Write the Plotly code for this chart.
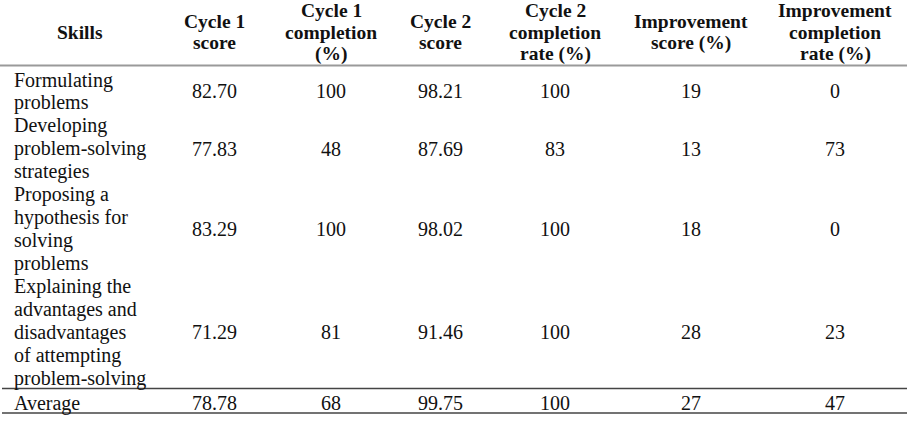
import plotly.graph_objects as go

# ---- data ----
headers = ["Skills", "Cycle 1<br>score", "Cycle 1<br>completion<br>(%)", "Cycle 2<br>score",
           "Cycle 2<br>completion<br>rate (%)", "Improvement<br>score (%)",
           "Improvement<br>completion<br>rate (%)"]
skills = ["Formulating<br>problems",
          "Developing<br>problem-solving<br>strategies",
          "Proposing a<br>hypothesis for<br>solving<br>problems",
          "Explaining the<br>advantages and<br>disadvantages<br>of attempting<br>problem-solving",
          "Average"]
cycle1_score = [82.70, 77.83, 83.29, 71.29, 78.78]
cycle1_completion = [100, 48, 100, 81, 68]
cycle2_score = [98.21, 87.69, 98.02, 91.46, 99.75]
cycle2_completion = [100, 83, 100, 100, 100]
improvement_score = [19, 13, 18, 28, 27]
improvement_completion = [0, 73, 0, 23, 47]

# ---- layout constants ----
W, H = 910, 422
FONT = "Liberation Serif"
col_x = [80, 214, 331, 440, 555, 691, 835]
skill_x = 12
head_center, head_step = 32, 21.5
body_start, body_step = 80, 22.95
avg_extra = 2

value_cols = [
    [f"{v:.2f}" for v in cycle1_score],
    [str(v) for v in cycle1_completion],
    [f"{v:.2f}" for v in cycle2_score],
    [str(v) for v in cycle2_completion],
    [str(v) for v in improvement_score],
    [str(v) for v in improvement_completion],
]

ann = []
# header
for h, x in zip(headers, col_x):
    lines = h.split("<br>")
    n = len(lines)
    for i, ln in enumerate(lines):
        y = head_center + (i - (n - 1) / 2) * head_step
        ann.append(dict(x=x, y=y, text="<b>" + ln + "</b>", xanchor="center", yanchor="middle",
                        font=dict(family=FONT, size=19.5, color="#111")))

# body
line_idx = 0
row_centers = []
for r, s in enumerate(skills):
    lines = s.split("<br>")
    ys = []
    for ln in lines:
        y = body_start + line_idx * body_step + (avg_extra if r == len(skills) - 1 else 0)
        ys.append(y)
        ann.append(dict(x=skill_x, y=y, text=ln, xanchor="left", yanchor="middle",
                        font=dict(family=FONT, size=20, color="#111")))
        line_idx += 1
    row_centers.append(sum(ys) / len(ys))

for c, vals in enumerate(value_cols):
    for r, v in enumerate(vals):
        ann.append(dict(x=col_x[c + 1], y=row_centers[r], text=v, xanchor="center", yanchor="middle",
                        font=dict(family=FONT, size=20, color="#111")))

for a in ann:
    a.update(xref="x", yref="y", showarrow=False)

shapes = [
    dict(type="line", xref="x", yref="y", x0=0, x1=907, y0=65.5, y1=65.5, line=dict(color="#9a9a9a", width=2)),
    dict(type="line", xref="x", yref="y", x0=2, x1=907, y0=388.5, y1=388.5, line=dict(color="#444", width=1.5)),
    dict(type="line", xref="x", yref="y", x0=2, x1=907, y0=413, y1=413, line=dict(color="#444", width=1.5)),
]

fig = go.Figure()
fig.update_layout(
    width=W, height=H, margin=dict(l=0, r=0, t=0, b=0),
    paper_bgcolor="white", plot_bgcolor="white",
    xaxis=dict(range=[0, W], visible=False, fixedrange=True),
    yaxis=dict(range=[H, 0], visible=False, fixedrange=True),
    annotations=ann, shapes=shapes, showlegend=False,
)
fig.write_html("out.html", config={"displayModeBar": False},
               post_script="document.body.style.margin='0';document.body.style.overflow='hidden';")
